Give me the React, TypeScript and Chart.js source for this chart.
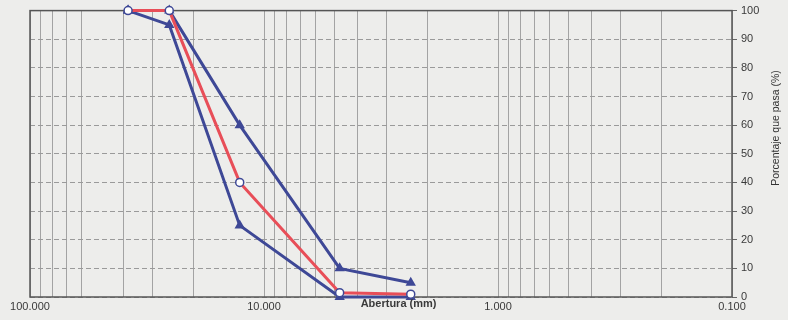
import React, { useEffect, useRef } from "react";
import { Chart, registerables } from "chart.js";

Chart.register(...registerables);

// Sieve openings (mm)
const sizes = [38.1, 25.4, 12.7, 4.75, 2.36];
// Percent passing
const sample = [100, 100, 40, 1.5, 1];
const upperLimit = [100, 100, 60, 10, 5];
const lowerLimit = [100, 95, 25, 0, 0];

const xGridValues = [
  100, 90, 80, 70, 60, 40, 30, 20,
  10, 9, 8, 7, 6, 5, 4, 3, 2,
  1, 0.9, 0.8, 0.7, 0.6, 0.5, 0.4, 0.3, 0.2,
  0.1,
];
const xLabelValues = [100, 10, 1, 0.1];
const yTicks = [0, 10, 20, 30, 40, 50, 60, 70, 80, 90, 100];

const xTitle = "Abertura (mm)";
const yTitle = "Porcentaje que pasa (%)";

const RED = "rgb(232,78,88)";
const BLUE = "rgb(62,72,150)";
const FONT = "'Liberation Sans', Arial, sans-serif";

const toPts = (vals: number[]) => sizes.map((s, i) => ({ x: s, y: vals[i] }));

export default function App() {
  const ref = useRef<HTMLCanvasElement | null>(null);

  useEffect(() => {
    document.body.style.margin = "0";
    document.body.style.background = "#ededeb";
    const canvas = ref.current;
    if (!canvas) return;

    const framePlugin = {
      id: "frame",
      beforeDatasetsDraw(chart: any) {
        const { ctx, chartArea: a } = chart;
        ctx.save();
        ctx.strokeStyle = "#555";
        ctx.lineWidth = 1.5;
        ctx.strokeRect(a.left, a.top, a.right - a.left, a.bottom - a.top);
        ctx.restore();
      },
      afterDraw(chart: any) {
        const { ctx, chartArea: a } = chart;
        ctx.save();
        ctx.fillStyle = "#3a3a3a";
        ctx.textAlign = "center";
        ctx.textBaseline = "middle";
        ctx.font = `bold 11px ${FONT}`;
        ctx.fillText(xTitle, a.left + (a.right - a.left) * 0.525, a.bottom + 7);
        ctx.translate(776, 128);
        ctx.rotate(-Math.PI / 2);
        ctx.font = `10.5px ${FONT}`;
        ctx.fillStyle = "#333";
        ctx.fillText(yTitle, 0, 0);
        ctx.restore();
      },
    };

    const chart = new Chart(canvas, {
      type: "line",
      data: {
        datasets: [
          {
            label: "Muestra",
            data: toPts(sample),
            borderColor: RED,
            borderWidth: 3,
            pointStyle: "circle",
            pointRadius: 4,
            pointBackgroundColor: "#ffffff",
            pointBorderColor: BLUE,
            pointBorderWidth: 1.5,
            clip: 10,
          },
          {
            label: "Límite superior",
            data: toPts(upperLimit),
            borderColor: BLUE,
            borderWidth: 3,
            pointStyle: "triangle",
            pointRadius: 3,
            pointBackgroundColor: BLUE,
            pointBorderColor: BLUE,
            clip: 10,
          },
          {
            label: "Límite inferior",
            data: toPts(lowerLimit),
            borderColor: BLUE,
            borderWidth: 3,
            pointStyle: "triangle",
            pointRadius: 3,
            pointBackgroundColor: BLUE,
            pointBorderColor: BLUE,
            clip: 10,
          },
        ],
      },
      options: {
        animation: false,
        responsive: false,
        maintainAspectRatio: false,
        layout: { padding: { left: 30, top: 9, right: 0, bottom: 0 } },
        plugins: {
          legend: { display: false },
          tooltip: { enabled: false },
        },
        scales: {
          x: {
            type: "logarithmic",
            reverse: true,
            min: 0.1,
            max: 100,
            position: "bottom",
            afterBuildTicks(scale: any) {
              scale.ticks = xGridValues.map((v) => ({ value: v }));
            },
            afterFit(scale: any) {
              scale.height = 23;
            },
            grid: {
              color: "#a3a3a3",
              lineWidth: 1,
              drawTicks: false,
            },
            border: { display: false },
            ticks: {
              autoSkip: false,
              maxRotation: 0,
              padding: 3,
              color: "#3a3a3a",
              font: { family: FONT, size: 11 },
              callback: (v: any) =>
                xLabelValues.includes(Number(v)) ? Number(v).toFixed(3) : "",
            },
          },
          y: {
            type: "linear",
            position: "right",
            min: 0,
            max: 100,
            afterBuildTicks(scale: any) {
              scale.ticks = yTicks.map((v) => ({ value: v }));
            },
            afterFit(scale: any) {
              scale.width = 56;
            },
            grid: {
              color: "#9a9a9a",
              lineWidth: 1,
              drawTicks: true,
              tickLength: 5,
              tickColor: "#666",
            },
            border: { display: false, dash: [5, 3] },
            ticks: {
              padding: 4,
              color: "#3a3a3a",
              font: { family: FONT, size: 11 },
            },
          },
        },
      },
      plugins: [framePlugin],
    } as any);

    return () => chart.destroy();
  }, []);

  return (
    <div style={{ width: 788, height: 320, background: "#ededeb" }}>
      <canvas ref={ref} width={788} height={320} style={{ display: "block" }} />
    </div>
  );
}
